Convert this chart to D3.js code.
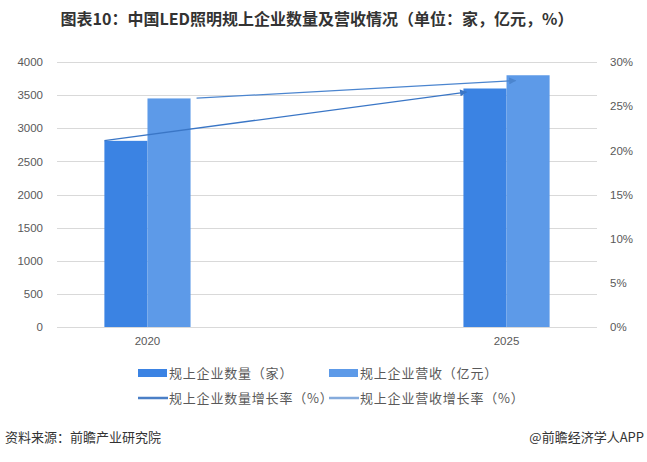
<!DOCTYPE html>
<html>
<head>
<meta charset="utf-8">
<script src="https://cdn.jsdelivr.net/npm/d3@7"></script>
<style>
  body { margin: 0; background: #fff; }
  svg { display: block; font-family: "Noto Sans CJK SC", "Microsoft YaHei", sans-serif; }
  .tick text { fill: #595959; font-size: 11.5px; }
</style>
</head>
<body>
<svg id="chart" width="647" height="462"></svg>
<script>
// data
var years = ["2020", "2025"];
var countValues = [2810, 3600];     // 规上企业数量（家）
var revenueValues = [3450, 3800];   // 规上企业营收（亿元）
var countGrowth = [21.1, 26.6];     // 规上企业数量增长率（%） arrow start / end
var revenueGrowth = [25.9, 27.9];   // 规上企业营收增长率（%） arrow start / end
var leftTicks = [0, 500, 1000, 1500, 2000, 2500, 3000, 3500, 4000];
var rightTicks = [0, 5, 10, 15, 20, 25, 30];

var svg = d3.select('#chart');
var plotLeft = 57, plotRight = 597, plotTop = 62, plotBottom = 327;

var x = d3.scaleBand().domain(years).range([plotLeft, plotRight])
  .paddingInner(0.76).paddingOuter(0.132);
var sub = d3.scaleBand().domain(["count", "revenue"]).range([0, x.bandwidth()]);
var y = d3.scaleLinear().domain([0, 4000]).range([plotBottom, plotTop]);
var y2 = d3.scaleLinear().domain([0, 30]).range([plotBottom, plotTop]);

var darkBar = '#3b83e3', lightBar = '#5d9ae8';
var darkLine = '#3a76c6', lightLine = '#4b85cf';

//Title
svg.append('text').attr('x', 317).attr('y', 25).attr('text-anchor', 'middle')
  .attr('font-size', '16px').attr('font-weight', 'bold').attr('fill', '#333')
  .text('图表10：中国LED照明规上企业数量及营收情况（单位：家，亿元，%）');

//Gridlines
svg.append('g').selectAll('line').data(leftTicks).enter().append('line')
  .attr('x1', plotLeft).attr('x2', plotRight)
  .attr('y1', function(d) { return Math.round(y(d)) + 0.5; })
  .attr('y2', function(d) { return Math.round(y(d)) + 0.5; })
  .attr('stroke', '#d9d9d9').attr('stroke-width', 1);

//Axes
var leftAxis = svg.append('g').attr('transform', 'translate(' + (plotLeft - 14) + ',0)')
  .call(d3.axisLeft(y).tickValues(leftTicks).tickSize(0).tickPadding(0).tickFormat(d3.format('d')));
var rightAxis = svg.append('g').attr('transform', 'translate(' + (plotRight + 13) + ',0)')
  .call(d3.axisRight(y2).tickValues(rightTicks).tickSize(0).tickPadding(0)
    .tickFormat(function(d) { return d + '%'; }));
var bottomAxis = svg.append('g').attr('transform', 'translate(0,' + (plotBottom + 14) + ')')
  .call(d3.axisBottom(x).tickSize(0).tickPadding(0));
[leftAxis, rightAxis, bottomAxis].forEach(function(a) { a.select('.domain').remove(); });
bottomAxis.selectAll('text').attr('dy', '0.32em');

//Bars
var groups = svg.append('g').selectAll('g').data(years).enter().append('g')
  .attr('transform', function(d) { return 'translate(' + x(d) + ',0)'; });
groups.append('rect').attr('x', sub('count')).attr('width', sub.bandwidth())
  .attr('y', function(d, i) { return y(countValues[i]); })
  .attr('height', function(d, i) { return y(0) - y(countValues[i]); })
  .attr('fill', darkBar);
groups.append('rect').attr('x', sub('revenue')).attr('width', sub.bandwidth())
  .attr('y', function(d, i) { return y(revenueValues[i]); })
  .attr('height', function(d, i) { return y(0) - y(revenueValues[i]); })
  .attr('fill', lightBar);

//Growth arrows
var defs = svg.append('defs');
function marker(id, color) {
  defs.append('marker').attr('id', id).attr('viewBox', '0 0 10 10')
    .attr('refX', 9).attr('refY', 5).attr('markerWidth', 9).attr('markerHeight', 7)
    .attr('markerUnits', 'userSpaceOnUse').attr('orient', 'auto')
    .append('path').attr('d', 'M0,0 L10,5 L0,10 z').attr('fill', color);
}
marker('arrowDark', darkLine);
marker('arrowLight', lightLine);

var line = d3.line().x(function(d) { return d[0]; }).y(function(d) { return d[1]; });
svg.append('path')
  .attr('d', line([[x(years[0]), y2(countGrowth[0])],
                   [x(years[1]) + 3, y2(countGrowth[1])]]))
  .attr('fill', 'none').attr('stroke', darkLine).attr('stroke-width', 1.3)
  .attr('marker-end', 'url(#arrowDark)');
svg.append('path')
  .attr('d', line([[x(years[0]) + x.bandwidth() + 6, y2(revenueGrowth[0])],
                   [x(years[1]) + x.bandwidth() / 2 + 9, y2(revenueGrowth[1])]]))
  .attr('fill', 'none').attr('stroke', lightLine).attr('stroke-width', 1.3)
  .attr('marker-end', 'url(#arrowLight)');

//Legend
var legend = [
  {name: '规上企业数量（家）', type: 'rect', color: darkBar, x: 138, y: 373},
  {name: '规上企业营收（亿元）', type: 'rect', color: lightBar, x: 329, y: 373},
  {name: '规上企业数量增长率（%）', type: 'line', color: '#4a7fc6', x: 138, y: 398},
  {name: '规上企业营收增长率（%）', type: 'line', color: '#85abdc', x: 329, y: 398}
];
var lg = svg.append('g').selectAll('g').data(legend).enter().append('g')
  .attr('transform', function(d) { return 'translate(' + d.x + ',' + d.y + ')'; });
lg.filter(function(d) { return d.type == 'rect'; }).append('rect')
  .attr('x', 0).attr('y', -4).attr('width', 29).attr('height', 8)
  .attr('fill', function(d) { return d.color; });
lg.filter(function(d) { return d.type == 'line'; }).append('line')
  .attr('x1', 0).attr('x2', 30).attr('y1', 0).attr('y2', 0)
  .attr('stroke', function(d) { return d.color; }).attr('stroke-width', 2.5);
lg.append('text').attr('x', 31).attr('dy', '0.35em')
  .attr('font-size', '13px').attr('fill', '#595959').attr('letter-spacing', '0.8px')
  .text(function(d) { return d.name; });

//Footer
svg.append('text').attr('x', 5).attr('y', 442).attr('font-size', '13px').attr('fill', '#333')
  .text('资料来源：前瞻产业研究院');
svg.append('text').attr('x', 644).attr('y', 442).attr('text-anchor', 'end')
  .attr('font-size', '13px').attr('fill', '#333')
  .text('@前瞻经济学人APP');
</script>
</body>
</html>
